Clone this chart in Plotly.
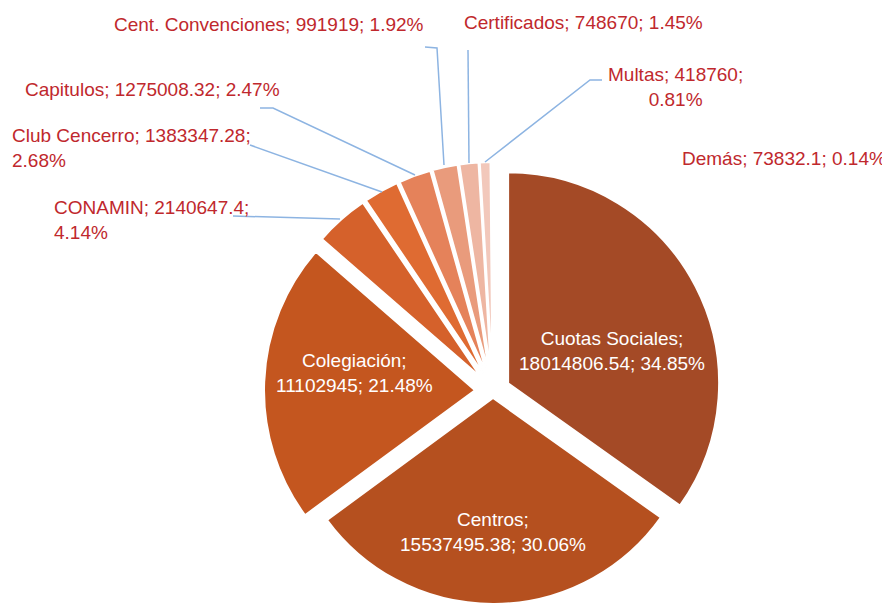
import math
import plotly.graph_objects as go

# ---------------- data ----------------
categories = ["Cuotas Sociales", "Centros", "Colegiación", "CONAMIN", "Club Cencerro",
              "Capitulos", "Cent. Convenciones", "Certificados", "Multas", "Demás"]
values = [18014806.54, 15537495.38, 11102945, 2140647.4, 1383347.28,
          1275008.32, 991919, 748670, 418760, 73832.1]
colors = ["#A44A26", "#B5501F", "#C4561F", "#D5612B", "#DF6B32",
          "#E5825A", "#E99B7C", "#EEB6A2", "#F2C8BB", "#F6DBD2"]
# explosion of each slice, in pixels
explode = [17, 7, 18, 18, 18, 18, 18, 18, 18, 18]

# page body has an 8px margin: the figure is drawn inside it
OFF = 8
W, H = 890 - OFF, 604 - OFF
CX, CY, R = 493, 391, 211          # pie centre / radius in page pixels
total = sum(values)


def fmt_val(v):
    return ("%.2f" % v).rstrip("0").rstrip(".")


def label(i):
    return f"{categories[i]}; {fmt_val(values[i])}; {100 * values[i] / total:.2f}%"


def domain(cx, cy, r):
    cx, cy = cx - OFF, cy - OFF
    r = min(r, H - cy, cy, cx, W - cx)
    return dict(x=[(cx - r) / W, (cx + r) / W],
                y=[1 - (cy + r) / H, 1 - (cy - r) / H])


def px(x, y):
    return (x - OFF) / W, 1 - (y - OFF) / H


fig = go.Figure()
cum = 0.0
for i, v in enumerate(values):
    mid = 2 * math.pi * (cum + v / 2) / total
    cum += v
    cx = CX + explode[i] * math.sin(mid)
    cy = CY - explode[i] * math.cos(mid)
    cols = [colors[j] if j == i else "rgba(0,0,0,0)" for j in range(len(values))]
    lw = [2 if j == i else 0 for j in range(len(values))]
    fig.add_trace(go.Pie(
        labels=categories, values=values, sort=False, direction="clockwise",
        rotation=0, textinfo="none", showlegend=False,
        hoverinfo="label+value+percent",
        marker=dict(colors=cols, line=dict(color="white", width=lw)),
        domain=domain(cx, cy, R),
    ))

FONT = "Liberation Sans, Arial, sans-serif"
RED = "#C0282D"
ann = []


def add(text, x, y, color, xanchor="center", align="center"):
    xx, yy = px(x, y)
    ann.append(dict(text=text, x=xx, y=yy, xref="paper", yref="paper",
                    xanchor=xanchor, yanchor="middle", align=align, showarrow=False,
                    font=dict(family=FONT, size=19, color=color)))


def split_label(i, brk):
    # brk: 1 -> break after name, 2 -> break after value
    parts = label(i).split("; ")
    if brk == 1:
        return parts[0] + ";<br>" + "; ".join(parts[1:])
    return "; ".join(parts[:2]) + ";<br>" + parts[2]


# inside labels
add(split_label(0, 1), 612, 351, "white")
add(split_label(1, 1), 493, 532, "white")
add(split_label(2, 1), 354, 373, "white")
# outside labels
add(split_label(3, 2), 52, 220, RED, xanchor="left", align="left")
add(split_label(4, 2), 10, 148, RED, xanchor="left", align="left")
add(label(5), 152, 89, RED)
add(label(6), 269, 25, RED)
add(label(7), 583, 22, RED)
add(split_label(8, 2), 675, 87, RED)
add(label(9), 784, 158, RED)

# leader lines
leaders = [
    [(233, 216), (340, 219)],
    [(250, 145), (382, 192)],
    [(260, 108), (273, 108), (415, 175)],
    [(425, 47), (437, 48), (444, 165)],
    [(468, 50), (469, 163)],
    [(602, 80), (590, 80), (485, 162)],
]
shapes = []
for pts in leaders:
    path = ""
    for k, (x, y) in enumerate(pts):
        xx, yy = px(x, y)
        path += ("M" if k == 0 else "L") + f"{xx},{yy} "
    shapes.append(dict(type="path", path=path.strip(), xref="paper", yref="paper",
                       line=dict(color="#8DB4E2", width=1.5)))

fig.update_layout(
    width=W, height=H, margin=dict(l=0, r=0, t=0, b=0),
    paper_bgcolor="white", plot_bgcolor="white",
    annotations=ann, shapes=shapes,
)
fig.write_html("out.html")
